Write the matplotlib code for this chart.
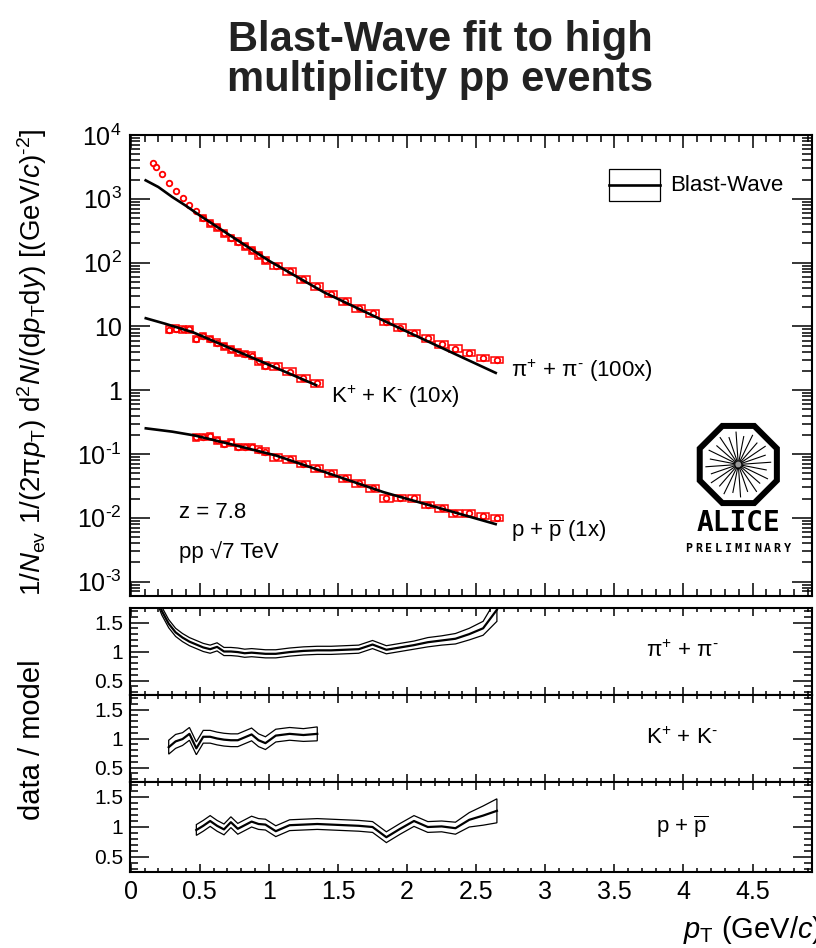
import numpy as np
import matplotlib
matplotlib.use("Agg")
import matplotlib.pyplot as plt
from matplotlib.patches import Rectangle, Polygon
from matplotlib.lines import Line2D
from matplotlib.ticker import (FixedLocator, FixedFormatter, MultipleLocator,
                               LogLocator, NullFormatter, FuncFormatter)

plt.rcParams['font.family'] = ['Liberation Sans', 'DejaVu Sans']
plt.rcParams['mathtext.fontset'] = 'custom'
plt.rcParams['mathtext.rm'] = 'Liberation Sans'
plt.rcParams['mathtext.it'] = 'Liberation Sans:italic'
plt.rcParams['mathtext.bf'] = 'Liberation Sans:bold'

# ---------------- data ----------------
# pi+ + pi- (scaled x100)
pion_pt = [0.16, 0.185, 0.225, 0.275, 0.325, 0.375, 0.425, 0.475, 0.525, 0.575,
           0.625, 0.675, 0.725, 0.775, 0.825, 0.875, 0.925, 0.975, 1.05, 1.15,
           1.25, 1.35, 1.45, 1.55, 1.65, 1.75, 1.85, 1.95, 2.05, 2.15,
           2.25, 2.35, 2.45, 2.55, 2.65]
pion_yield = [3660, 3200, 2470, 1780, 1335, 1037, 806, 649, 504, 415,
              359, 289, 245, 214, 179, 155, 131, 109, 89, 72.6,
              55, 42.7, 32.4, 24.8, 19.3, 16.1, 11.8, 9.6, 7.94, 6.55,
              5.3, 4.48, 3.86, 3.22, 2.99]
pion_sys = [0, 0, 0, 0, 0, 0, 0, 0, 0.12, 0.12,
            0.12, 0.12, 0.12, 0.12, 0.12, 0.12, 0.12, 0.12, 0.12, 0.12,
            0.12, 0.12, 0.12, 0.12, 0.12, 0.12, 0.12, 0.12, 0.12, 0.12,
            0.12, 0.12, 0.12, 0.12, 0.12]
pion_ratio = [2.2, 1.95, 1.7, 1.48, 1.33, 1.24, 1.17, 1.12, 1.07, 1.04,
              1.08, 1.0, 1.0, 0.99, 0.97, 0.98, 0.97, 0.96, 0.96, 0.99,
              1.01, 1.02, 1.02, 1.03, 1.04, 1.12, 1.03, 1.07, 1.11, 1.16,
              1.19, 1.22, 1.3, 1.4, 1.72]
pion_ratio_err = [0.08, 0.08, 0.07, 0.07, 0.07, 0.07, 0.07, 0.07, 0.07, 0.07,
                  0.07, 0.07, 0.07, 0.07, 0.07, 0.07, 0.07, 0.07, 0.07, 0.07,
                  0.07, 0.07, 0.07, 0.07, 0.07, 0.07, 0.07, 0.07, 0.07, 0.08,
                  0.08, 0.09, 0.1, 0.12, 0.2]

# K+ + K- (scaled x10)
kaon_pt = [0.275, 0.325, 0.375, 0.425, 0.475, 0.525, 0.575, 0.625, 0.675, 0.725,
           0.775, 0.825, 0.875, 0.925, 0.975, 1.05, 1.15, 1.25, 1.35]
kaon_yield = [8.9, 9.26, 8.95, 9.06, 6.38, 7.12, 6.39, 5.57, 4.91, 4.36,
              3.92, 3.70, 3.49, 2.84, 2.43, 2.36, 1.96, 1.55, 1.28]
kaon_sys = [0.12] * 19
kaon_ratio = [0.85, 0.95, 0.99, 1.08, 0.83, 1.03, 1.03, 1.0, 0.98, 0.97,
              0.97, 1.02, 1.07, 0.97, 0.92, 1.05, 1.08, 1.06, 1.08]
kaon_ratio_err = [0.12, 0.12, 0.11, 0.11, 0.11, 0.11, 0.11, 0.11, 0.11, 0.11,
                  0.11, 0.11, 0.11, 0.11, 0.11, 0.11, 0.11, 0.11, 0.12]

# p + pbar (x1)
prot_pt = [0.475, 0.525, 0.575, 0.625, 0.675, 0.725, 0.775, 0.825, 0.875, 0.925,
           0.975, 1.05, 1.15, 1.25, 1.35, 1.45, 1.55, 1.65, 1.75, 1.85,
           1.95, 2.05, 2.15, 2.25, 2.35, 2.45, 2.55, 2.65]
prot_yield = [0.183, 0.185, 0.188, 0.164, 0.145, 0.154, 0.130, 0.129, 0.129, 0.117,
              0.109, 0.0882, 0.0825, 0.0703, 0.060, 0.0501, 0.0418, 0.035, 0.0288, 0.0203,
              0.0206, 0.0202, 0.016, 0.014, 0.0118, 0.0117, 0.0108, 0.00997]
prot_sys = [0.12] * 28
prot_ratio = [0.95, 1.02, 1.10, 1.02, 0.96, 1.08, 0.97, 1.03, 1.09, 1.05,
              1.04, 0.93, 1.03, 1.04, 1.05, 1.04, 1.03, 1.02, 1.0, 0.83,
              0.97, 1.10, 1.0, 1.01, 0.98, 1.12, 1.19, 1.27]
prot_ratio_err = [0.09, 0.09, 0.09, 0.09, 0.09, 0.09, 0.09, 0.09, 0.09, 0.09,
                  0.09, 0.09, 0.09, 0.09, 0.09, 0.09, 0.09, 0.09, 0.09, 0.09,
                  0.09, 0.09, 0.09, 0.09, 0.1, 0.12, 0.16, 0.2]

# Blast-Wave model curves
bw_pion_pt = [0.1, 0.2, 0.3, 0.4, 0.5, 0.7, 1.0, 1.4, 1.8, 2.2, 2.65]
bw_pion = [1990, 1530, 1070, 776, 548, 284, 107, 34.1, 13.2, 5.18, 1.83]
bw_kaon_pt = [0.1, 0.25, 0.45, 0.7, 1.0, 1.35]
bw_kaon = [13.6, 11.0, 8.1, 4.74, 2.50, 1.18]
bw_prot_pt = [0.1, 0.3, 0.463, 0.75, 1.05, 1.4, 1.83, 2.2, 2.65]
bw_prot = [0.254, 0.224, 0.195, 0.138, 0.0948, 0.0525, 0.0252, 0.0149, 0.00785]

main_ytick_vals = [1e-3, 1e-2, 1e-1, 1, 10, 1e2, 1e3, 1e4]
main_ytick_labels = [r'$10^{\text{-}3}$', r'$10^{\text{-}2}$', r'$10^{\text{-}1}$', '1', '10',
                     r'$10^{2}$', r'$10^{3}$', r'$10^{4}$']
ratio_ytick_vals = [0.5, 1.0, 1.5]
ratio_ytick_labels = ['0.5', '1', '1.5']

# ---------------- layout ----------------
W, H = 816, 948
fig = plt.figure(figsize=(W / 100, H / 100), dpi=100)


def frac(x0, y0, x1, y1):
    """pixel box (top-left origin) -> figure fraction rect"""
    return [x0 / W, 1 - y1 / H, (x1 - x0) / W, (y1 - y0) / H]


L, R = 130, 812
XMIN, XMAX = -0.005, 4.93
RED = '#ff0000'
LW_SPINE = 1.5

ax = fig.add_axes(frac(L, 135, R, 596))
ax_r = [fig.add_axes(frac(L, 608, R, 695)),
        fig.add_axes(frac(L, 695, R, 782)),
        fig.add_axes(frac(L, 782, R, 872))]

# ---------------- main panel ----------------
ax.set_yscale('log')
ax.set_xlim(XMIN, XMAX)
ax.set_ylim(10 ** -3.226, 1e4)
ax.yaxis.set_major_locator(FixedLocator(main_ytick_vals))
ax.yaxis.set_major_formatter(FixedFormatter(main_ytick_labels))
ax.yaxis.set_minor_locator(LogLocator(base=10, subs=np.arange(2, 10), numticks=20))
ax.yaxis.set_minor_formatter(NullFormatter())
ax.xaxis.set_major_locator(MultipleLocator(0.5))
ax.xaxis.set_minor_locator(MultipleLocator(0.1))
ax.tick_params(axis='both', which='both', direction='in', top=True, right=True,
               width=1.1, color='black')
ax.tick_params(axis='x', which='major', length=9.5, labelbottom=False)
ax.tick_params(axis='x', which='minor', length=5)
ax.tick_params(axis='y', which='major', length=14.5, labelsize=18, pad=6)
ax.tick_params(axis='y', which='minor', length=7.5)
for s in ax.spines.values():
    s.set_linewidth(LW_SPINE)


def draw_species(pt, yld, sys):
    pt = np.asarray(pt, float)
    yld = np.asarray(yld, float)
    sys = np.asarray(sys, float)
    width = np.where(pt < 1.0, 0.05, 0.1) * 0.9
    for x, y, s, w in zip(pt, yld, sys, width):
        if s > 0:
            ax.add_patch(Rectangle((x - w / 2, y * (1 - s)), w, y * 2 * s,
                                   fill=False, edgecolor=RED, lw=1.1, zorder=3))
    ax.plot(pt, yld, linestyle='none', marker='o', markersize=4.0,
            markerfacecolor='none', markeredgecolor=RED, markeredgewidth=1.3,
            zorder=4)


draw_species(pion_pt, pion_yield, pion_sys)
draw_species(kaon_pt, kaon_yield, kaon_sys)
draw_species(prot_pt, prot_yield, prot_sys)

for mx, my in ((bw_pion_pt, bw_pion), (bw_kaon_pt, bw_kaon), (bw_prot_pt, bw_prot)):
    ax.plot(mx, my, color='black', lw=1.9, zorder=5, solid_capstyle='butt')

TXT = 16
PI_LABEL = r'$\mathrm{\pi}^{+}$ + $\mathrm{\pi}^{\text{-}}$'
K_LABEL = r'K$^{+}$ + K$^{\text{-}}$'
P_LABEL = r'p + $\overline{\mathrm{p}}$'
ax.text(2.75, 2.04, PI_LABEL + ' (100x)', fontsize=TXT, va='center', ha='left')
ax.text(1.45, 0.776, K_LABEL + ' (10x)', fontsize=TXT, va='center', ha='left')
ax.text(2.755, 0.0063, P_LABEL + ' (1x)', fontsize=TXT, va='center', ha='left')
ax.text(0.347, 0.01225, 'z = 7.8', fontsize=TXT, va='center', ha='left')
ax.text(0.347, 0.00289, 'pp \u221a7 TeV', fontsize=TXT, va='center', ha='left')

# legend
lx0, ly0, lx1, ly1 = 609, 169, 660, 201
fig.patches.append(Rectangle((lx0 / W, 1 - ly1 / H), (lx1 - lx0) / W, (ly1 - ly0) / H,
                             fill=False, edgecolor='black', lw=0.9,
                             transform=fig.transFigure, figure=fig))
fig.lines.append(Line2D([lx0 / W, lx1 / W], [1 - 185 / H, 1 - 185 / H], color='black',
                        lw=1.9, transform=fig.transFigure, figure=fig))
fig.text(670 / W, 1 - 186 / H, 'Blast-Wave', fontsize=TXT, va='center', ha='left')

# ---------------- ratio panels ----------------
ratio_sets = [(pion_pt, pion_ratio, pion_ratio_err, PI_LABEL),
              (kaon_pt, kaon_ratio, kaon_ratio_err, K_LABEL),
              (prot_pt, prot_ratio, prot_ratio_err, P_LABEL)]
for i, (a, (pt, r, e, lab)) in enumerate(zip(ax_r, ratio_sets)):
    pt = np.asarray(pt, float)
    r = np.asarray(r, float)
    e = np.asarray(e, float)
    a.set_xlim(XMIN, XMAX)
    a.set_ylim(0.25, 1.75)
    verts = np.concatenate([np.column_stack([pt, r + e]),
                            np.column_stack([pt[::-1], (r - e)[::-1]])])
    a.add_patch(Polygon(verts, closed=True, fill=False, edgecolor='black', lw=0.9))
    a.plot(pt, r, color='black', lw=1.6)
    a.yaxis.set_major_locator(FixedLocator(ratio_ytick_vals))
    a.yaxis.set_major_formatter(FixedFormatter(ratio_ytick_labels))
    a.yaxis.set_minor_locator(MultipleLocator(0.1))
    a.xaxis.set_major_locator(MultipleLocator(0.5))
    a.xaxis.set_minor_locator(MultipleLocator(0.1))
    a.tick_params(axis='both', which='both', direction='in', top=True, right=True,
                  width=1.1, color='black')
    a.tick_params(axis='y', which='major', length=13.5, labelsize=15, pad=5)
    a.tick_params(axis='y', which='minor', length=6)
    a.tick_params(axis='x', which='major', length=6)
    a.tick_params(axis='x', which='minor', length=3)
    if i < 2:
        a.tick_params(axis='x', labelbottom=False)
    else:
        a.tick_params(axis='x', labelsize=18, pad=6)
        a.xaxis.set_major_formatter(FuncFormatter(lambda v, p: '%g' % round(v, 2)))
    for s in a.spines.values():
        s.set_linewidth(LW_SPINE)
    a.text(3.99, 1.0, lab, fontsize=TXT, ha='center', va='center')

# ---------------- axis titles ----------------
fig.text(32 / W, 1 - 362 / H,
         r'1/$N_{\mathrm{ev}}$ 1/(2π$p_{\mathrm{T}}$) d$^{2}$$N$/(d$p_{\mathrm{T}}$d$y$) [(GeV/$c$)$^{\text{-}2}$]',
         rotation=90, fontsize=20, ha='center', va='center')
fig.text(32 / W, 1 - 740 / H, 'data / model', rotation=90, fontsize=21,
         ha='center', va='center')
fig.text(822 / W, 1 - 930 / H, r'$p_{\mathrm{T}}$ (GeV/$c$)', fontsize=21,
         ha='right', va='center')

fig.text(440 / W, 1 - 60 / H, 'Blast-Wave fit to high\nmultiplicity pp events',
         fontsize=30, fontweight='bold', color='#222222', ha='center', va='center',
         linespacing=1.0)

# ---------------- ALICE logo ----------------
cx, cy = 738.3, 464.5
lg = fig.add_axes(frac(cx - 50, cy - 50, cx + 50, cy + 50))
lg.set_xlim(-50, 50)
lg.set_ylim(-50, 50)
lg.set_aspect('equal')
lg.axis('off')
ang = np.deg2rad(22.5 + 45 * np.arange(8))
R_out, R_in = 45.0, 38.5
lg.add_patch(Polygon(np.column_stack([R_out * np.cos(ang), R_out * np.sin(ang)]),
                     closed=True, facecolor='black', edgecolor='none'))
lg.add_patch(Polygon(np.column_stack([R_in * np.cos(ang), R_in * np.sin(ang)]),
                     closed=True, facecolor='white', edgecolor='none'))
ray_ang = np.deg2rad(np.arange(0, 360, 15) + 4)
ray_len = np.where(np.arange(len(ray_ang)) % 2 == 0, 33.0, 29.0)
for t, l in zip(ray_ang, ray_len):
    lg.plot([3 * np.cos(t), l * np.cos(t)], [3 * np.sin(t), l * np.sin(t)],
            color='black', lw=0.8, solid_capstyle='butt')
lg.add_patch(plt.Circle((0, 0), 4, color='#999999'))

fig.text(738.5 / W, 1 - 523 / H, 'ALICE', fontsize=20, fontweight='bold',
         family=['DejaVu Sans Mono'], ha='center', va='center')
word = 'PRELIMINARY'
for k, ch in enumerate(word):
    xk = 738 + (k - (len(word) - 1) / 2) * 9.8
    fig.text(xk / W, 1 - 548 / H, ch, fontsize=8.5, fontweight='bold',
             family=['DejaVu Sans Mono'], ha='center', va='center')

fig.savefig('out.png', dpi=100)
